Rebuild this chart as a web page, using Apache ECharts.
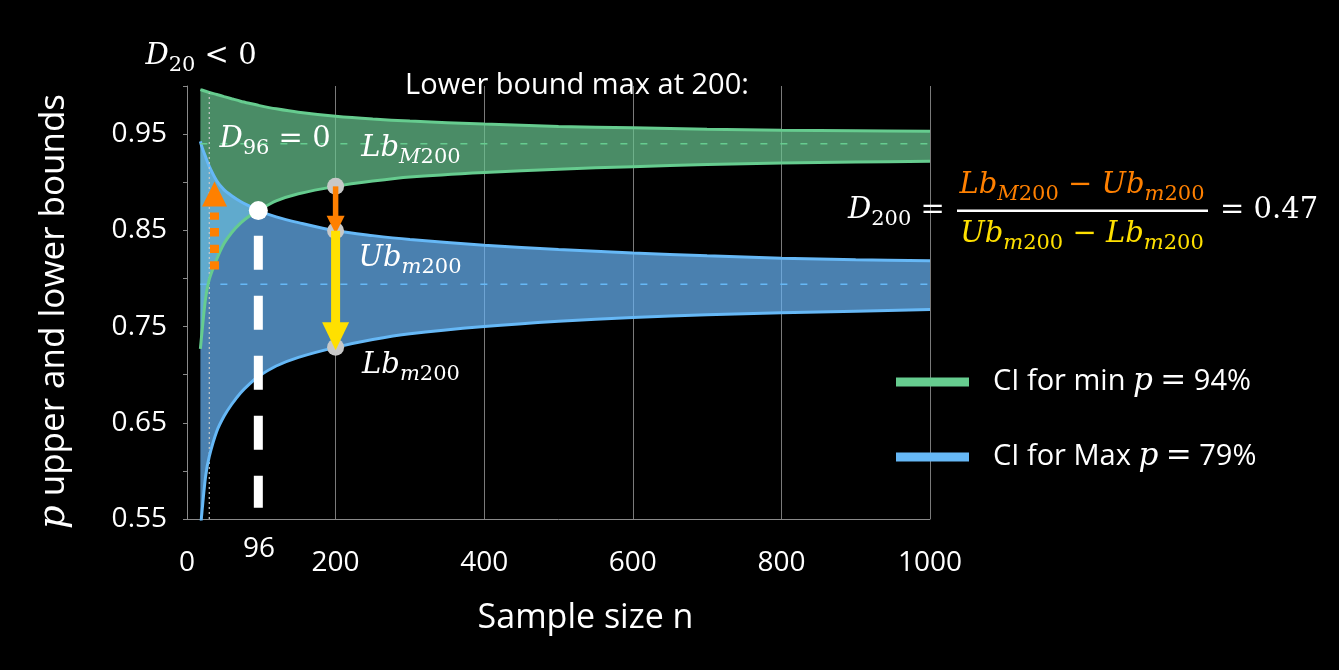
<!DOCTYPE html>
<html>
<head>
<meta charset="utf-8">
<title>CI bounds vs sample size</title>
<script src="https://cdn.jsdelivr.net/npm/echarts@6/dist/echarts.min.js"></script>
<style>
  html, body { margin: 0; padding: 0; background: #000; }
  #main { width: 1339px; height: 670px; }
</style>
</head>
<body>
<div id="main"></div>
<script>
// sample sizes shared by every bound curve
var sampleSizes = [18, 20, 25, 30, 40, 50, 60, 72, 85, 96, 120, 150, 200, 250, 300, 400, 500, 600, 700, 800, 900, 1000];
// CI for min p = 94%
var minUpper = [0.9963, 0.9958, 0.9945, 0.9933, 0.9912, 0.989, 0.9868, 0.9842, 0.9818, 0.9799, 0.9763, 0.9727, 0.9685, 0.9656, 0.9635, 0.9604, 0.958, 0.9565, 0.9551, 0.954, 0.9534, 0.9529];
var minLower = [0.7267, 0.743, 0.779, 0.799, 0.820, 0.8365, 0.8475, 0.8575, 0.8655, 0.8705, 0.8805, 0.888, 0.8957, 0.9012, 0.9055, 0.9102, 0.9135, 0.9162, 0.9184, 0.9201, 0.921, 0.9217];
// CI for Max p = 79%
var maxUpper = [0.9425, 0.937, 0.9265, 0.9165, 0.9015, 0.892, 0.886, 0.880, 0.8748, 0.8705, 0.864, 0.858, 0.8495, 0.8445, 0.8405, 0.8345, 0.830, 0.8265, 0.8235, 0.821, 0.8195, 0.8185];
var maxLower = [0.538, 0.556, 0.594, 0.615, 0.641, 0.657, 0.669, 0.681, 0.691, 0.698, 0.709, 0.718, 0.7284, 0.7365, 0.7425, 0.750, 0.7555, 0.7595, 0.7622, 0.7643, 0.766, 0.7676];
var minCentre = 0.94;
var maxCentre = 0.794;
var crossN = 96;
var compareN = 200;
var yTickLabels = [0.55, 0.65, 0.75, 0.85, 0.95];

var green = '#66cc8f';
var blue = '#66b8f6';
var orange = '#ff8000';
var yellow = '#ffe000';
var serif = 'DejaVu Serif';
var sans = 'Open Sans';

// rows are [p, n] so the stack runs on p (encode puts n on x)
function rows(ys) {
  return sampleSizes.map(function (n, i) { return [ys[i], n]; });
}
function gapRows(top, bottom) {
  return sampleSizes.map(function (n, i) { return [+(top[i] - bottom[i]).toFixed(4), n]; });
}
var iCmp = sampleSizes.indexOf(compareN);
var iCross = sampleSizes.indexOf(crossN);

function mathRich(size, sub, color) {
  return {
    i: { fontFamily: serif, fontStyle: 'italic', fontSize: size, fill: color, lineHeight: 40 },
    u: { fontFamily: serif, fontSize: size, fill: color, lineHeight: 40 },
    si: { fontFamily: serif, fontStyle: 'italic', fontSize: sub, fill: color, lineHeight: 22, verticalAlign: 'bottom' },
    su: { fontFamily: serif, fontSize: sub, fill: color, lineHeight: 22, verticalAlign: 'bottom' }
  };
}
function mathText(x, y, text, color, align) {
  return {
    type: 'text', x: x, y: y, z: 100,
    style: { text: text, fill: color, rich: mathRich(29, 21, color), align: align || 'center', verticalAlign: 'middle' }
  };
}
function plainText(x, y, text, size) {
  return {
    type: 'text', x: x, y: y, z: 100,
    style: { text: text, fill: '#fff', font: size + 'px "Open Sans"', align: 'center', verticalAlign: 'middle' }
  };
}

// arrows: [n, from, to, style]
var arrowStyles = [
  { color: orange, shaft: 5.5, headW: 18, headL: 18, extend: 3, dash: null, gap: 0 },
  { color: yellow, shaft: 9, headW: 27, headL: 28, extend: 3, dash: null, gap: 0 },
  { color: orange, shaft: 9, headW: 25, headL: 25, extend: 0, dash: [8.3, 8.3], gap: 6 }
];
var arrows = [
  [compareN, minLower[iCmp], maxUpper[iCmp], 0],
  [compareN, maxUpper[iCmp], maxLower[iCmp], 1],
  [37, 0.8092, 0.9008, 2]
];

function band(name, stack, data, color, z, area) {
  var s = {
    name: name, type: 'line', stack: stack, z: z,
    data: data, encode: { x: 1, y: 0 },
    symbol: 'none', smooth: 0.3,
    lineStyle: { color: color, width: 3 }, itemStyle: { color: color }
  };
  if (area) s.areaStyle = { color: area, opacity: 1 };
  return s;
}

var chart = echarts.init(document.getElementById('main'));

var option = {
  backgroundColor: '#000',
  animation: false,
  grid: { left: 187, right: 409, top: 86, bottom: 151 },
  legend: {
    orient: 'vertical',
    left: 891,
    top: 360,
    itemWidth: 73,
    itemHeight: 9,
    itemGap: 41,
    icon: 'rect',
    selectedMode: false,
    data: [
      { name: 'CI for min p = 94%', itemStyle: { color: green } },
      { name: 'CI for Max p = 79%', itemStyle: { color: blue } }
    ],
    formatter: function (name) {
      return name.replace(' p = ', ' {p|p} {e|=} ');
    },
    textStyle: {
      color: '#fff', fontFamily: sans, fontSize: 29, lineHeight: 34, padding: [0, 0, 0, 19],
      rich: {
        p: { fontFamily: serif, fontStyle: 'italic', fontSize: 31, color: '#fff', lineHeight: 34 },
        e: { fontFamily: serif, fontSize: 31, color: '#fff', lineHeight: 34 }
      }
    }
  },
  xAxis: {
    type: 'value',
    min: 0,
    max: 1000,
    interval: 200,
    name: 'Sample size n',
    nameLocation: 'middle',
    nameGap: 82,
    nameTextStyle: { color: '#fff', fontFamily: sans, fontSize: 34, padding: [0, 0, 0, 54] },
    axisLine: { show: true, lineStyle: { color: '#8a8a8a', width: 1 } },
    axisTick: { show: false },
    axisLabel: {
      color: '#fff', fontFamily: sans, fontSize: 28, margin: 30,
      formatter: function (v) { return String(v); }
    },
    splitLine: { show: true, lineStyle: { color: '#7a7a7a', width: 1 } }
  },
  yAxis: {
    type: 'value',
    min: 0.55,
    max: 1.0,
    interval: 0.05,
    name: '{p|p} upper and lower bounds',
    nameLocation: 'middle',
    nameRotate: 90,
    nameGap: 114,
    nameTextStyle: {
      color: '#fff', fontFamily: sans, fontSize: 35, padding: [0, 18, 0, 0],
      rich: { p: { fontFamily: serif, fontStyle: 'italic', fontSize: 37, color: '#fff' } }
    },
    axisLine: { show: true, lineStyle: { color: '#8a8a8a', width: 1 } },
    axisTick: { show: true, length: 4, lineStyle: { color: '#8a8a8a' } },
    axisLabel: {
      color: '#fff', fontFamily: sans, fontSize: 28, margin: 20,
      formatter: function (v) {
        var t = +(+v).toFixed(2);
        return yTickLabels.indexOf(t) >= 0 ? t.toFixed(2) : '';
      }
    },
    splitLine: { show: false }
  },
  series: [
    band('CI for min p = 94%', 'min', rows(minLower), green, 4, null),
    band('CI for min p = 94%', 'min', gapRows(minUpper, minLower), green, 2, 'rgba(106,200,146,0.7)'),
    band('CI for Max p = 79%', 'max', rows(maxLower), blue, 4, null),
    band('CI for Max p = 79%', 'max', gapRows(maxUpper, maxLower), blue, 2, 'rgba(106,183,249,0.7)'),
    {
      type: 'line', z: 3, symbol: 'none', silent: true,
      data: [[sampleSizes[0], minCentre], [1000, minCentre]],
      lineStyle: { color: green, width: 1.5, type: [7, 13] }
    },
    {
      type: 'line', z: 3, symbol: 'none', silent: true,
      data: [[sampleSizes[0], maxCentre], [1000, maxCentre]],
      lineStyle: { color: blue, width: 1.5, type: [7, 13] }
    },
    {
      type: 'line', z: 3, symbol: 'none', silent: true,
      data: [[30, 0.55], [30, 0.993]],
      lineStyle: { color: '#c8c8c8', width: 1.2, type: [2, 3] }
    },
    {
      type: 'line', z: 5, symbol: 'none', silent: true,
      data: [[crossN, 0.8445], [crossN, 0.5616]],
      lineStyle: { color: '#fff', width: 9, type: [34, 26], cap: 'butt' }
    },
    {
      type: 'scatter', z: 6, symbolSize: 17, silent: true,
      data: [[compareN, minLower[iCmp]], [compareN, maxUpper[iCmp]], [compareN, maxLower[iCmp]]],
      itemStyle: { color: '#c8c8c8', opacity: 1 }
    },
    {
      type: 'scatter', z: 6, symbolSize: 19, silent: true,
      data: [[crossN, minLower[iCross]]],
      itemStyle: { color: '#fff', opacity: 1 }
    },
    {
      type: 'custom', z: 7, silent: true,
      data: arrows,
      renderItem: function (params, api) {
        var s = arrowStyles[api.value(3)];
        var p0 = api.coord([api.value(0), api.value(1)]);
        var p1 = api.coord([api.value(0), api.value(2)]);
        var x = p0[0];
        var dir = p1[1] > p0[1] ? 1 : -1;
        var tipY = p1[1] + dir * s.extend;
        var baseY = tipY - dir * s.headL;
        var shaftEnd = baseY - dir * s.gap + (s.dash ? 0 : dir);
        return {
          type: 'group',
          children: [
            {
              type: 'line',
              shape: { x1: x, y1: p0[1], x2: x, y2: shaftEnd },
              style: { stroke: s.color, lineWidth: s.shaft, lineDash: s.dash, lineCap: 'butt' }
            },
            {
              type: 'polygon',
              shape: { points: [[x - s.headW / 2, baseY], [x + s.headW / 2, baseY], [x, tipY]] },
              style: { fill: s.color }
            }
          ]
        };
      }
    }
  ],
  graphic: [
    mathText(201, 56, '{i|D}{su|20}{u| < 0}', '#fff'),
    mathText(275, 139, '{i|D}{su|96}{u| = 0}', '#fff'),
    mathText(411, 148, '{i|Lb}{si|M}{su|200}', '#fff'),
    mathText(410, 258, '{i|Ub}{si|m}{su|200}', '#fff'),
    mathText(411, 365, '{i|Lb}{si|m}{su|200}', '#fff'),
    plainText(577, 86, 'Lower bound max at 200:', 29),
    plainText(259, 549, String(crossN), 28),
    mathText(848, 210, '{i|D}{su|200}{u| =}', '#fff', 'left'),
    mathText(1082, 185, '{i|Lb}{si|M}{su|200}{u| − }{i|Ub}{si|m}{su|200}', orange),
    {
      type: 'line', z: 100,
      shape: { x1: 957, y1: 210.7, x2: 1208, y2: 210.7 },
      style: { stroke: '#fff', lineWidth: 2.5 }
    },
    mathText(1082, 234, '{i|Ub}{si|m}{su|200}{u| − }{i|Lb}{si|m}{su|200}', yellow),
    mathText(1220, 210, '{u|= 0.47}', '#fff', 'left')
  ]
};

chart.setOption(option);
</script>
</body>
</html>
